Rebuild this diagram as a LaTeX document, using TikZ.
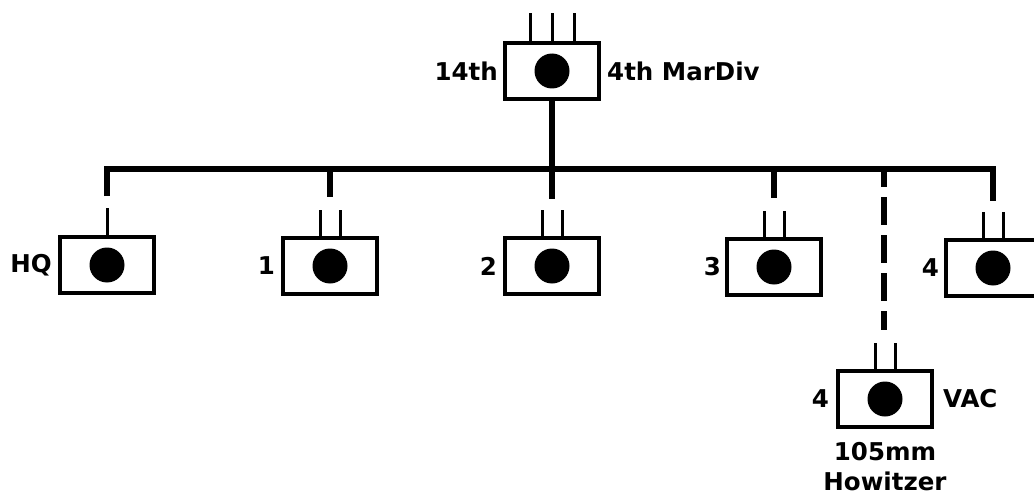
\documentclass[tikz,border=0pt]{standalone}
\usepackage{fontspec}
\newfontfamily\lblfont{DejaVu Sans}
\begin{document}
\begin{tikzpicture}[x=1pt,y=-1pt,
  unit/.style={draw, line width=4pt, minimum width=94pt, minimum height=56pt, inner sep=0pt, outer sep=0pt},
  lbl/.style={font=\lblfont\bfseries\fontsize{24.5}{30}\selectfont, inner sep=0pt},
  tick/.style={line width=3pt},
  busline/.style={line width=5.5pt, line join=miter},
  drop/.style={line width=6pt},
  dashdrop/.style={line width=6pt, dash pattern=on 28pt off 10pt, dash phase=10pt},
  dot/.style={fill=black}]
\clip (0,0) rectangle (1034,495);
% unit boxes
\node[unit] (top) at (552,71) {};
\node[unit] (hq)  at (107,265) {};
\node[unit] (b1)  at (330,266) {};
\node[unit] (b2)  at (552,266) {};
\node[unit] (b3)  at (774,267) {};
\node[unit] (b4)  at (993,268) {};
\node[unit] (vac) at (885,399) {};
% dots
\foreach \n in {top,hq,b1,b2,b3,b4,vac} \fill[dot] (\n.center) circle (17.5);
% size ticks
\foreach \dx in {-22,0,22} \draw[tick] ([xshift=\dx pt]top.north) -- ++(0,-30);
\draw[tick] (hq.north) -- ++(0,-29);
\foreach \n in {b1,b2,b3,b4,vac}
  \foreach \dx in {-10,10} \draw[tick] ([xshift=\dx pt]\n.north) -- ++(0,-28);
% labels
\node[lbl, anchor=east] (l14) at ([xshift=-7pt]top.west) {14th};
\node[lbl, anchor=west] (lmd) at ([xshift=8pt]top.east) {4th MarDiv};
\node[lbl, anchor=east] (lhq) at ([xshift=-8pt]hq.west) {HQ};
\node[lbl, anchor=east] (l1) at ([xshift=-8pt]b1.west) {1};
\node[lbl, anchor=east] (l2) at ([xshift=-8pt]b2.west) {2};
\node[lbl, anchor=east] (l3) at ([xshift=-6pt]b3.west) {3};
\node[lbl, anchor=east] (l4) at ([xshift=-7pt]b4.west) {4};
\node[lbl, anchor=east] (lv4) at ([xshift=-9pt]vac.west) {4};
\node[lbl, anchor=west] (lvac) at ([xshift=11pt]vac.east) {VAC};
\node[lbl, anchor=north, align=center] (lhow) at ([yshift=-15pt]vac.south) {105mm\\Howitzer};
% connectors
\coordinate (busL) at (107,169);
\coordinate (dhq) at (107,196);
\coordinate (d1) at (330,197);
\coordinate (d2) at (552,199);
\coordinate (d3) at (774,198);
\coordinate (d4) at (993,201);
\coordinate (dv) at (884,330);
\draw[busline] (dhq) -- (dhq |- busL) -- (d4 |- busL) -- (d4);
\draw[drop] (top.south) -- (top.south |- busL);
\draw[drop] (d1 |- busL) -- (d1);
\draw[drop] (d2 |- busL) -- (d2);
\draw[drop] (d3 |- busL) -- (d3);
\draw[dashdrop] (dv |- busL) -- (dv);
\end{tikzpicture}
\end{document}
